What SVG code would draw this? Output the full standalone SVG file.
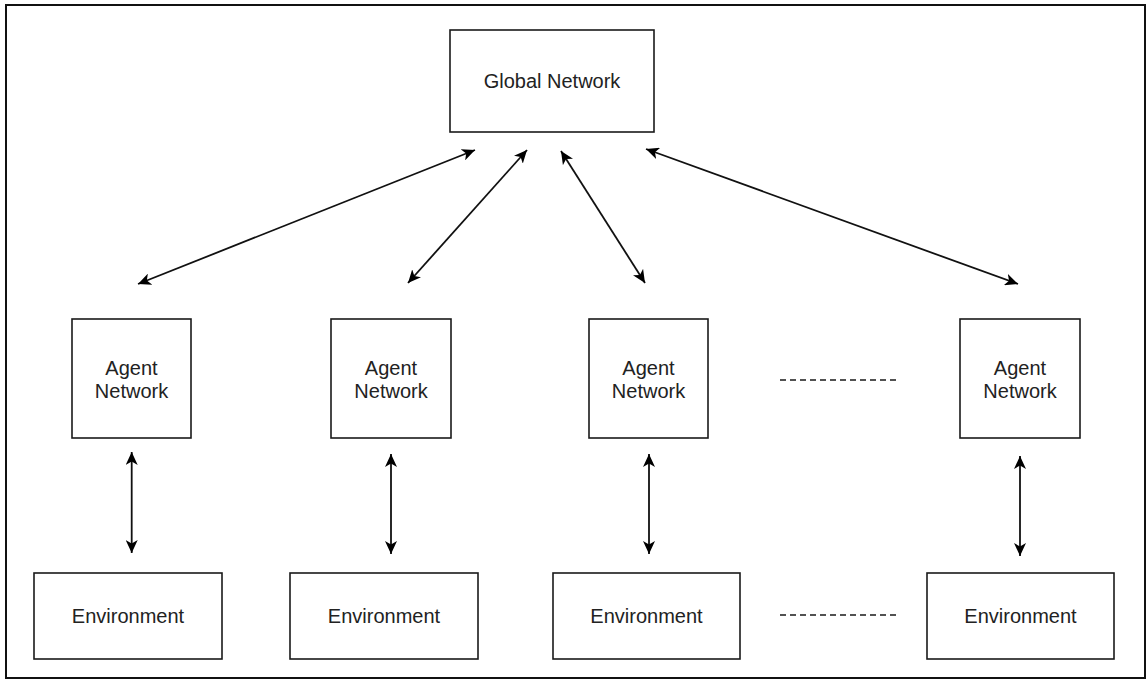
<svg xmlns="http://www.w3.org/2000/svg" width="1147" height="680" viewBox="0 0 1147 680">
  <style>
    .box { fill: #ffffff; stroke: #1a1a1a; stroke-width: 1.6; }
    .lbl { font-family: "Liberation Sans", Arial, sans-serif; font-size: 20px; fill: #222222; text-anchor: middle; }
    .conn { stroke: #111111; stroke-width: 1.8; fill: none; marker-start: url(#arr); marker-end: url(#arr); }
    .dash { stroke: #1a1a1a; stroke-width: 1.4; stroke-dasharray: 6 4; fill: none; }
  </style>
  <defs>
    <marker id="arr" viewBox="0 0 13 12" refX="13" refY="6" markerWidth="13" markerHeight="12" markerUnits="userSpaceOnUse" orient="auto-start-reverse">
      <path d="M0,0 L13,6 L0,12 L3.5,6 Z" fill="#000000"/>
    </marker>
  </defs>
  <rect x="0" y="0" width="1147" height="680" fill="#ffffff"/>
  <rect x="6" y="5" width="1139" height="673" fill="none" stroke="#111111" stroke-width="2"/>

  <g id="global">
    <rect class="box" x="450" y="30" width="204" height="102"/>
    <text class="lbl" x="552" y="88">Global Network</text>
  </g>

  <g id="agent1">
    <rect class="box" x="72" y="319" width="119" height="119"/>
    <text class="lbl" x="131.5" y="375">Agent</text>
    <text class="lbl" x="131.5" y="398">Network</text>
  </g>
  <g id="agent2">
    <rect class="box" x="331" y="319" width="120" height="119"/>
    <text class="lbl" x="391" y="375">Agent</text>
    <text class="lbl" x="391" y="398">Network</text>
  </g>
  <g id="agent3">
    <rect class="box" x="589" y="319" width="119" height="119"/>
    <text class="lbl" x="648.5" y="375">Agent</text>
    <text class="lbl" x="648.5" y="398">Network</text>
  </g>
  <g id="agent4">
    <rect class="box" x="960" y="319" width="120" height="119"/>
    <text class="lbl" x="1020" y="375">Agent</text>
    <text class="lbl" x="1020" y="398">Network</text>
  </g>

  <g id="env1">
    <rect class="box" x="34" y="573" width="188" height="86"/>
    <text class="lbl" x="128" y="623">Environment</text>
  </g>
  <g id="env2">
    <rect class="box" x="290" y="573" width="188" height="86"/>
    <text class="lbl" x="384" y="623">Environment</text>
  </g>
  <g id="env3">
    <rect class="box" x="553" y="573" width="187" height="86"/>
    <text class="lbl" x="646.5" y="623">Environment</text>
  </g>
  <g id="env4">
    <rect class="box" x="927" y="573" width="187" height="86"/>
    <text class="lbl" x="1020.5" y="623">Environment</text>
  </g>

  <g id="connectors">
    <line class="conn" x1="475" y1="150" x2="138" y2="284"/>
    <line class="conn" x1="527" y1="150" x2="408" y2="283"/>
    <line class="conn" x1="561" y1="151" x2="645" y2="283"/>
    <line class="conn" x1="646" y1="149" x2="1018" y2="284"/>
    <line class="conn" x1="131.7" y1="452" x2="131.7" y2="553"/>
    <line class="conn" x1="391" y1="454" x2="391" y2="554"/>
    <line class="conn" x1="649" y1="454" x2="649" y2="554"/>
    <line class="conn" x1="1020" y1="456" x2="1020" y2="556"/>
    <line class="dash" x1="780" y1="380" x2="899" y2="380"/>
    <line class="dash" x1="780" y1="615" x2="899" y2="615"/>
  </g>
</svg>
